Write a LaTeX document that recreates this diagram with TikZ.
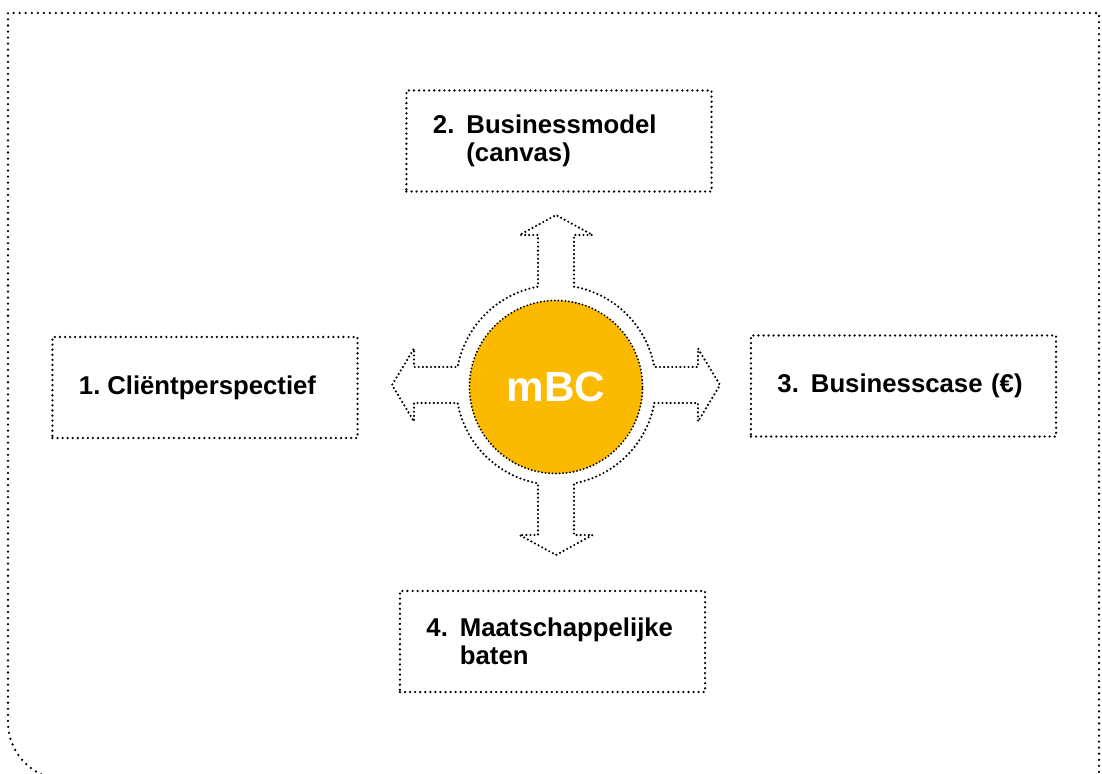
\documentclass[tikz,border=0pt]{standalone}
\usepackage{fontspec}
\setmainfont{Liberation Sans}
\definecolor{mbcorange}{HTML}{FBB900}
\newcommand{\nr}[3][1.3em]{\mbox{\makebox[#1][l]{#2}#3}}

\begin{document}
\begin{tikzpicture}[x=0.025cm,y=-0.025cm,
  every node/.style={font=\fontsize{18.3}{19.5}\selectfont\bfseries},
  dots/.style={dash pattern=on 0pt off #1,line cap=round},
  box/.style={draw,dots=3.6pt,line width=1.8pt,rectangle,minimum width=7.625cm,minimum height=2.525cm,
              text width=6.3cm,inner xsep=0.6625cm,align=left},
  ring/.style={draw,dots=2.9pt,line width=1.7pt},
  hub/.style={circle,draw=black,dots=2.5pt,line width=1.5pt,fill=mbcorange,minimum size=4.325cm,inner sep=0pt,
              text=white,font=\fontsize{30}{36}\selectfont\bfseries}]
\useasboundingbox (0,0) rectangle (1102,774);
\clip (0,0) rectangle (1102,774);
% outer frame
\draw[dots=4.3pt,line width=1.8pt] (1099,790) -- (1099,13) -- (8,13) -- (8,722)
  arc[start angle=180,end angle=90,radius=58];
% ring with four arrows
\begin{scope}[shift={(556,385)}]
\draw[ring] (10.37:100) -- (142,18) -- (142,36.5) -- (164,0) -- (142,-36.5) -- (142,-18) -- (-10.37:100)
  arc[start angle=-10.37,end angle=-79.63,radius=100]
  -- (18,-150) -- (36.5,-150) -- (0,-170) -- (-36.5,-150) -- (-18,-150) -- (-100.37:100)
  arc[start angle=-100.37,end angle=-169.63,radius=100]
  -- (-142,-18) -- (-142,-36.5) -- (-164,0) -- (-142,36.5) -- (-142,18) -- (-190.37:100)
  arc[start angle=-190.37,end angle=-259.63,radius=100]
  -- (-18,150) -- (-36.5,150) -- (0,170) -- (36.5,150) -- (18,150) -- (-280.37:100)
  arc[start angle=-280.37,end angle=-349.63,radius=100] -- cycle;
\end{scope}
\node[hub] (mbc) at (556,387)   {mBC};
\node[box] (p1)  at (205,387.5) {\nr[1.1em]{1.}{Cliëntperspectief}};
\node[box] (p2)  at (559,141)   {\nr{2.}{Businessmodel}\\\hspace*{1.3em}(canvas)};
\node[box] (p3)  at (903.5,386) {\nr{3.}{Businesscase (€)}};
\node[box] (p4)  at (552.5,641.5) {\nr{4.}{Maatschappelijke}\\\hspace*{1.3em}baten};
\end{tikzpicture}
\end{document}
